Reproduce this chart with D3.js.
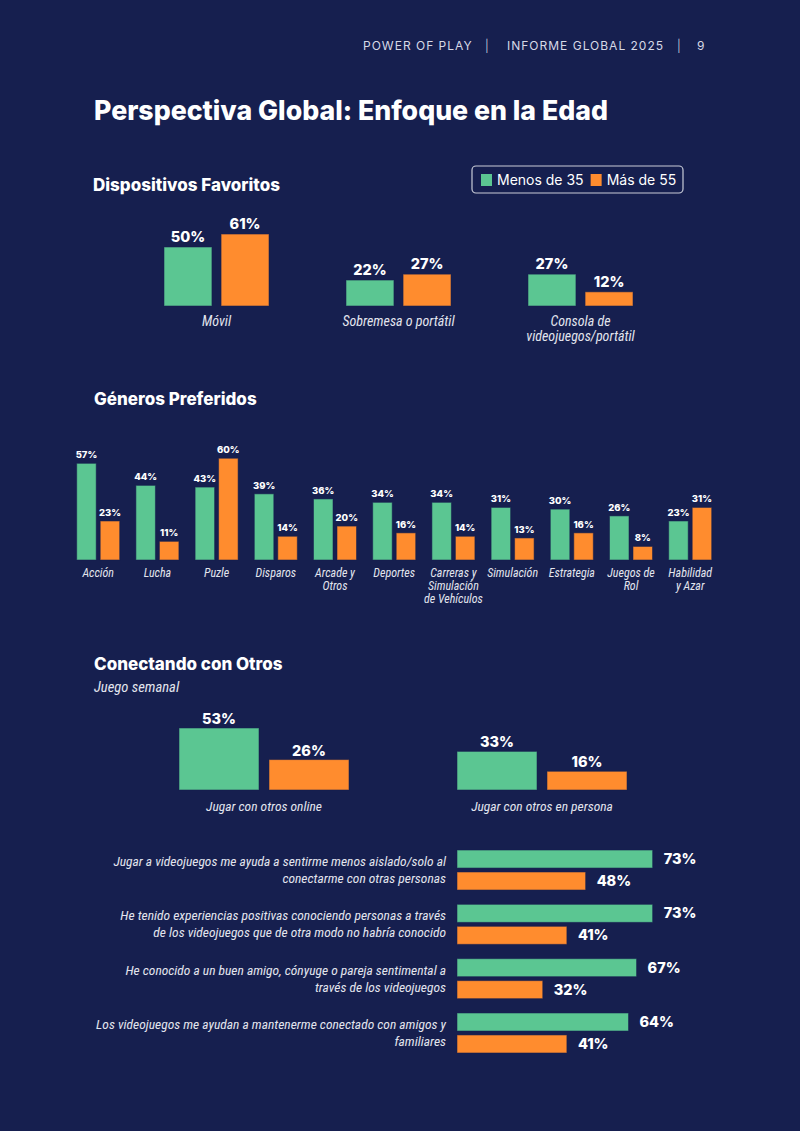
<!DOCTYPE html>
<html><head><meta charset="utf-8">
<script src="https://cdn.jsdelivr.net/npm/d3@7"></script>
<style>
html,body{margin:0;padding:0;background:#161f4f;}
svg{display:block;}
.bold{font-family:Inter,"Liberation Sans",sans-serif;font-weight:800;fill:#fff;}
.it{font-family:"Liberation Sans Narrow","Roboto Condensed","DejaVu Sans Condensed",Roboto,sans-serif;font-style:italic;fill:#e3e5ee;}
</style></head><body>
<script>
// ---------- DATA ----------
const seriesNames = ["Menos de 35", "Más de 55"];
const devices = ["Móvil", "Sobremesa o portátil", "Consola de\nvideojuegos/portátil"];
const deviceUnder35 = [50, 22, 27];
const deviceOver55 = [61, 27, 12];

const genres = ["Acción", "Lucha", "Puzle", "Disparos", "Arcade y\nOtros", "Deportes",
  "Carreras y\nSimulación\nde Vehículos", "Simulación", "Estrategia", "Juegos de\nRol", "Habilidad\ny Azar"];
const genreUnder35 = [57, 44, 43, 39, 36, 34, 34, 31, 30, 26, 23];
const genreOver55 = [23, 11, 60, 14, 20, 16, 14, 13, 16, 8, 31];

const weekly = ["Jugar con otros online", "Jugar con otros en persona"];
const weeklyUnder35 = [53, 33];
const weeklyOver55 = [26, 16];

const statements = [
  "Jugar a videojuegos me ayuda a sentirme menos aislado/solo al\nconectarme con otras personas",
  "He tenido experiencias positivas conociendo personas a través\nde los videojuegos que de otra modo no habría conocido",
  "He conocido a un buen amigo, cónyuge o pareja sentimental a\ntravés de los videojuegos",
  "Los videojuegos me ayudan a mantenerme conectado con amigos y\nfamiliares"
];
const statUnder35 = [73, 73, 67, 64];
const statOver55 = [48, 41, 32, 41];

// ---------- STYLE ----------
const W = 800, H = 1131;
const GREEN = "#5bc692", ORANGE = "#ff8c2e", BG = "#161f4f";
const colors = {a: GREEN, b: ORANGE};
const fmt = v => v + "%";

const svg = d3.select("body").append("svg").attr("width", W).attr("height", H);
svg.append("rect").attr("width", W).attr("height", H).attr("fill", BG);

// header
const hdr = svg.append("g").attr("font-family", "Inter, 'Liberation Sans', sans-serif")
  .attr("font-size", 12).attr("fill", "#d6d9e6").attr("letter-spacing", "1px");
[["POWER OF PLAY", 363], ["|", 485], ["INFORME GLOBAL 2025", 507], ["|", 677], ["9", 697]].forEach(([t, x]) =>
  hdr.append("text").attr("x", x).attr("y", 50).attr("font-weight", t === "|" ? 300 : 400).text(t));

svg.append("text").attr("class", "bold").attr("x", 94).attr("y", 120).attr("font-size", 26.7)
  .text("Perspectiva Global: Enfoque en la Edad");

function sectionTitle(t, x, y) {
  svg.append("text").attr("class", "bold").attr("x", x).attr("y", y).attr("font-size", 17).text(t);
}
function multiText(g, str, x, y, lh, anchor) {
  const t = g.append("text").attr("class", "it").attr("text-anchor", anchor);
  str.split("\n").forEach((ln, i) => t.append("tspan").attr("x", x).attr("y", y + i * lh).text(ln));
  return t;
}

// legend
const lg = svg.append("g");
lg.append("rect").attr("x", 472).attr("y", 166).attr("width", 211).attr("height", 27).attr("rx", 4)
  .attr("fill", "none").attr("stroke", "#c9ccd8").attr("stroke-width", 1.2);
let lx = 481;
["a", "b"].forEach((k, i) => {
  lg.append("rect").attr("x", lx).attr("y", 174).attr("width", 11).attr("height", 12).attr("fill", colors[k]);
  const t = lg.append("text").attr("x", lx + 16).attr("y", 185).attr("font-family", "Inter, 'Liberation Sans', sans-serif")
    .attr("font-size", 14).attr("fill", "#fff").text(seriesNames[i]);
  lx = lx + 16 + t.node().getComputedTextLength() + 7;
});

// vertical grouped bars helper
function vGroups(opts) {
  const {cats, a, b, range, sub, base, pxPer, valSize, labSize, labY, labLH, valGap} = opts;
  const x = d3.scaleBand().domain(cats).range(range);
  const xs = d3.scaleBand().domain(["a", "b"]).range(sub.range).paddingInner(sub.pad);
  const y = d3.scaleLinear().domain([0, 100]).range([base, base - pxPer * 100]);
  const g = svg.append("g");
  const data = [];
  cats.forEach((c, i) => { data.push({c, k: "a", v: a[i]}); data.push({c, k: "b", v: b[i]}); });
  const cx = d => x(d.c) + x.bandwidth() / 2 + xs(d.k);
  g.selectAll("rect").data(data).join("rect")
    .attr("x", cx).attr("width", xs.bandwidth())
    .attr("y", d => y(d.v)).attr("height", d => base - y(d.v))
    .attr("fill", d => colors[d.k]).attr("stroke", "rgba(22,31,79,0.55)").attr("stroke-width", 1);
  g.selectAll("text.v").data(data).join("text").attr("class", "bold v")
    .attr("x", d => cx(d) + xs.bandwidth() / 2).attr("y", d => y(d.v) - valGap)
    .attr("text-anchor", "middle").attr("font-size", valSize).text(d => fmt(d.v));
  cats.forEach(c => multiText(g, c, x(c) + x.bandwidth() / 2, labY, labLH, "middle").attr("font-size", labSize));
}

// Section 1
sectionTitle("Dispositivos Favoritos", 93, 191);
vGroups({cats: devices, a: deviceUnder35, b: deviceOver55, range: [125.5, 671.5],
  sub: {range: [-52.5, 52.5], pad: 0.16}, base: 306, pxPer: 1.18, valSize: 14.5, labSize: 14,
  labY: 326, labLH: 15, valGap: 5});

// Section 2
sectionTitle("Géneros Preferidos", 94, 405);
vGroups({cats: genres, a: genreUnder35, b: genreOver55, range: [68.6, 719.8],
  sub: {range: [-21.5, 21.5], pad: 0.17}, base: 560, pxPer: 1.696, valSize: 9.5, labSize: 12,
  labY: 577, labLH: 13, valGap: 5});

// Section 3
sectionTitle("Conectando con Otros", 94, 670);
svg.append("text").attr("class", "it").attr("x", 94).attr("y", 692).attr("font-size", 14.6).text("Juego semanal");
vGroups({cats: weekly, a: weeklyUnder35, b: weeklyOver55, range: [125, 681],
  sub: {range: [-85, 85], pad: 0.111}, base: 790, pxPer: 1.17, valSize: 14.5, labSize: 13.5,
  labY: 811, labLH: 15, valGap: 4});

// Horizontal statements
(function () {
  const y = d3.scaleBand().domain(statements).range([842.85, 1060.15]);
  const ys = d3.scaleBand().domain(["a", "b"]).range([-20, 20]).paddingInner(0.18);
  const x = d3.scaleLinear().domain([0, 100]).range([457, 457 + 268]);
  const g = svg.append("g");
  const data = [];
  statements.forEach((s, i) => { data.push({s, k: "a", v: statUnder35[i]}); data.push({s, k: "b", v: statOver55[i]}); });
  const cy = d => y(d.s) + y.bandwidth() / 2 + ys(d.k);
  g.selectAll("rect").data(data).join("rect")
    .attr("x", x(0)).attr("width", d => x(d.v) - x(0))
    .attr("y", cy).attr("height", ys.bandwidth())
    .attr("fill", d => colors[d.k]).attr("stroke", "rgba(22,31,79,0.55)").attr("stroke-width", 1);
  g.selectAll("text.v").data(data).join("text").attr("class", "bold v")
    .attr("x", d => x(d.v) + 11).attr("y", d => cy(d) + ys.bandwidth() / 2 + 5)
    .attr("font-size", 14.5).text(d => fmt(d.v));
  statements.forEach(s => multiText(g, s, 446, y(s) + y.bandwidth() / 2 - 4, 17, "end").attr("font-size", 13.5));
})();
</script>
</body></html>
